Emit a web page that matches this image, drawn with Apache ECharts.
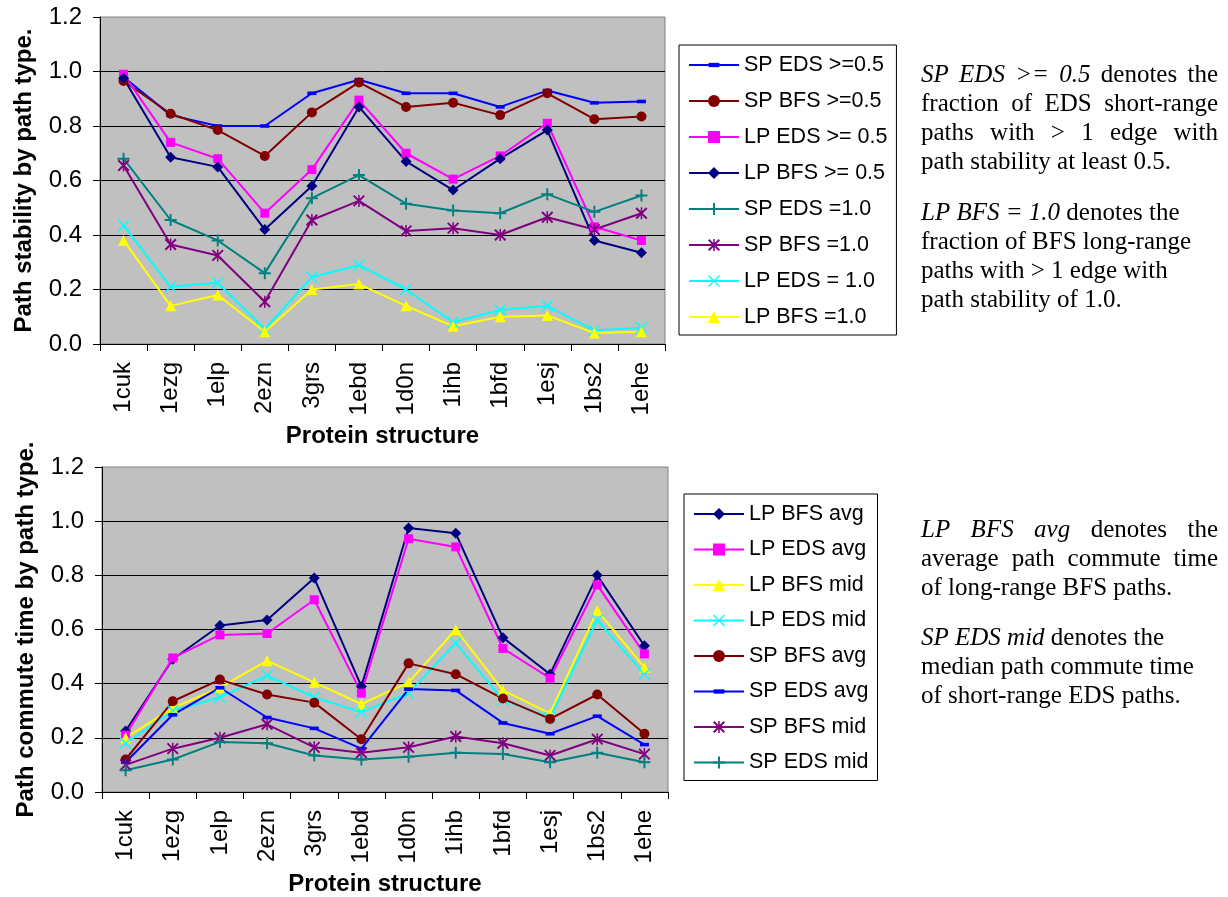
<!DOCTYPE html>
<html><head><meta charset="utf-8">
<script src="https://cdn.jsdelivr.net/npm/echarts@6/dist/echarts.min.js"></script>
<style>html,body{margin:0;padding:0;background:#fff}#c{width:1228px;height:897px}</style>
</head><body><div id="c"></div>
<script>
// ---------- DATA ----------
const categories = ['1cuk','1ezg','1elp','2ezn','3grs','1ebd','1d0n','1ihb','1bfd','1esj','1bs2','1ehe'];
const yTicks = [0, 0.2, 0.4, 0.6, 0.8, 1.0, 1.2];

// Top chart: path stability
const topNames = ['SP EDS >=0.5','SP BFS >=0.5','LP EDS >= 0.5','LP BFS >= 0.5','SP EDS =1.0','SP BFS =1.0','LP EDS = 1.0','LP BFS =1.0'];
const spEds05 = [0.98,0.84,0.80,0.80,0.92,0.97,0.92,0.92,0.87,0.93,0.885,0.89];
const spBfs05 = [0.965,0.845,0.785,0.69,0.85,0.96,0.87,0.885,0.84,0.92,0.825,0.835];
const lpEds05 = [0.99,0.74,0.68,0.48,0.64,0.895,0.70,0.605,0.69,0.81,0.43,0.38];
const lpBfs05 = [0.975,0.685,0.65,0.42,0.58,0.87,0.67,0.565,0.68,0.785,0.38,0.335];
const spEds10 = [0.68,0.455,0.38,0.26,0.535,0.62,0.515,0.49,0.48,0.55,0.485,0.545];
const spBfs10 = [0.655,0.365,0.325,0.155,0.455,0.525,0.415,0.425,0.40,0.465,0.42,0.48];
const lpEds10 = [0.435,0.21,0.225,0.055,0.245,0.29,0.20,0.08,0.125,0.14,0.05,0.06];
const lpBfs10 = [0.38,0.14,0.18,0.045,0.20,0.22,0.14,0.065,0.10,0.105,0.04,0.045];

// Bottom chart: path commute time
const botNames = ['LP BFS avg','LP EDS avg','LP BFS mid','LP EDS mid','SP BFS avg','SP EDS avg','SP BFS mid','SP EDS mid'];
const lpBfsAvg = [0.225,0.49,0.615,0.635,0.79,0.39,0.975,0.955,0.57,0.435,0.80,0.54];
const lpEdsAvg = [0.21,0.495,0.58,0.585,0.71,0.365,0.935,0.905,0.53,0.42,0.765,0.51];
const lpBfsMid = [0.20,0.31,0.385,0.485,0.405,0.325,0.405,0.60,0.375,0.29,0.67,0.46];
const lpEdsMid = [0.18,0.30,0.35,0.43,0.35,0.295,0.365,0.55,0.34,0.275,0.635,0.435];
const spBfsAvg = [0.12,0.335,0.415,0.36,0.33,0.195,0.475,0.435,0.345,0.27,0.36,0.215];
const spEdsAvg = [0.11,0.285,0.385,0.275,0.235,0.16,0.38,0.375,0.255,0.215,0.28,0.175];
const spBfsMid = [0.10,0.16,0.20,0.25,0.165,0.145,0.165,0.205,0.18,0.135,0.195,0.14];
const spEdsMid = [0.08,0.12,0.185,0.18,0.135,0.12,0.13,0.145,0.14,0.11,0.145,0.11];

// Side notes (italic part, normal part)
const topNote1 = [['SP EDS >= 0.5','denotes the'],['','fraction of EDS short-range'],['','paths with > 1 edge with'],['','path stability at least 0.5.']];
const topNote2 = [['LP BFS = 1.0','denotes the'],['','fraction of BFS long-range'],['','paths with > 1 edge with'],['','path stability of 1.0.']];
const botNote1 = [['LP BFS avg','denotes the'],['','average path commute time'],['','of long-range BFS paths.']];
const botNote2 = [['SP EDS mid','denotes the'],['','median path commute time'],['','of short-range EDS paths.']];

// ---------- STYLE ----------
const SANS = 'Liberation Sans';
const SERIF = 'Liberation Serif';
const SYM = {
  dash: 'path://M-5,-5M5,5M-4.5,-1.8L4.5,-1.8L4.5,1.8L-4.5,1.8Z',
  circle: 'circle',
  square: 'rect',
  diamond: 'diamond',
  plus: 'path://M-1.3,-8L1.3,-8L1.3,8L-1.3,8Z M-8,-1.3L8,-1.3L8,1.3L-8,1.3Z',
  star: 'path://M-1,-8L1,-8L1,8L-1,8Z M-7.9,-6.1L-6.1,-7.9L7.9,6.1L6.1,7.9Z M6.1,-7.9L7.9,-6.1L-6.1,7.9L-7.9,6.1Z',
  cross: 'path://M-7.9,-6.6L-6.6,-7.9L7.9,6.6L6.6,7.9Z M6.6,-7.9L7.9,-6.6L-6.6,7.9L-7.9,6.6Z',
  triangle: 'triangle'
};
const SIZE = {dash:10, circle:10, square:9, diamond:11, plus:12, star:12, cross:12, triangle:11};

function mk(name, data, color, sym, gi) {
  return {
    name, type:'line', data, xAxisIndex:gi, yAxisIndex:gi,
    symbol: SYM[sym], symbolSize: SIZE[sym],
    lineStyle:{color, width:2}, itemStyle:{color},
    emphasis:{disabled:true}, animation:false
  };
}

const series = [
  mk(topNames[0], spEds05, '#0000FF', 'dash', 0),
  mk(topNames[1], spBfs05, '#800000', 'circle', 0),
  mk(topNames[2], lpEds05, '#FF00FF', 'square', 0),
  mk(topNames[3], lpBfs05, '#000080', 'diamond', 0),
  mk(topNames[4], spEds10, '#008080', 'plus', 0),
  mk(topNames[5], spBfs10, '#800080', 'star', 0),
  mk(topNames[6], lpEds10, '#00FFFF', 'cross', 0),
  mk(topNames[7], lpBfs10, '#FFFF00', 'triangle', 0),
  mk(botNames[0], lpBfsAvg, '#000080', 'diamond', 1),
  mk(botNames[1], lpEdsAvg, '#FF00FF', 'square', 1),
  mk(botNames[2], lpBfsMid, '#FFFF00', 'triangle', 1),
  mk(botNames[3], lpEdsMid, '#00FFFF', 'cross', 1),
  mk(botNames[4], spBfsAvg, '#800000', 'circle', 1),
  mk(botNames[5], spEdsAvg, '#0000FF', 'dash', 1),
  mk(botNames[6], spBfsMid, '#800080', 'star', 1),
  mk(botNames[7], spEdsMid, '#008080', 'plus', 1)
];

function xAx(gi) {
  return {
    type:'category', gridIndex:gi, data:categories, boundaryGap:true,
    axisLine:{lineStyle:{color:'#000', width:1}},
    axisTick:{show:true, length:7, alignWithLabel:false, lineStyle:{color:'#000'}},
    axisLabel:{rotate:90, margin:18, interval:0, fontFamily:SANS, fontSize:24, color:'#000'},
    name:'Protein structure', nameLocation:'middle', nameGap:80,
    nameTextStyle:{fontFamily:SANS, fontSize:24, fontWeight:'bold', color:'#000'}
  };
}
function yAx(gi, name) {
  return {
    type:'value', gridIndex:gi, min:yTicks[0], max:yTicks[yTicks.length-1], interval:0.2,
    axisLine:{show:true, lineStyle:{color:'#000', width:1}},
    axisTick:{show:true, length:7, lineStyle:{color:'#000'}},
    axisLabel:{margin:18, fontFamily:SANS, fontSize:24, color:'#000', formatter:v=>v.toFixed(1)},
    splitLine:{show:true, showMaxLine:false, lineStyle:{color:'#000', width:1}},
    name, nameLocation:'middle', nameGap:64,
    nameTextStyle:{fontFamily:SANS, fontSize:24, fontWeight:'bold', color:'#000'}
  };
}
function lg(names, left, top, gap) {
  return {
    data:names, orient:'vertical', left, top, itemWidth:50, itemHeight:15, itemGap:gap,
    padding:[9,9,7,9], backgroundColor:'#fff', borderColor:'#000', borderWidth:1,
    selectedMode:false,
    textStyle:{fontFamily:SANS, fontSize:21.5, color:'#000', lineHeight:22}
  };
}

// ---------- NOTES (graphic text, justified where needed) ----------
const NOTE_X = 921, NOTE_W = 297, NOTE_FS = 25, NOTE_LH = 29;
const mctx = document.createElement('canvas').getContext('2d');
function fnt(it){ return (it?'italic ':'') + NOTE_FS + 'px "' + SERIF + '"'; }
function noteLines(lines, y0, justify) {
  const els = [];
  lines.forEach((ln, li) => {
    const words = [];
    if (ln[0]) ln[0].split(' ').forEach(t => words.push({t, it:true}));
    if (ln[1]) ln[1].split(' ').forEach(t => words.push({t, it:false}));
    const ws = words.map(w => { mctx.font = fnt(w.it); return mctx.measureText(w.t).width; });
    mctx.font = fnt(false);
    const sp = mctx.measureText(' ').width;
    const tot = ws.reduce((a,b)=>a+b,0);
    const doJ = justify && li < lines.length-1 && words.length > 1;
    const gap = doJ ? (NOTE_W - tot)/(words.length-1) : sp;
    let x = NOTE_X;
    const y = y0 + li*NOTE_LH;
    words.forEach((w, i) => {
      els.push({type:'text', x, y, silent:true, style:{text:w.t, font:fnt(w.it), fill:'#000', verticalAlign:'middle', align:'left'}});
      x += ws[i] + gap;
    });
  });
  return els;
}
const graphics = [].concat(
  noteLines(topNote1, 75, true),
  noteLines(topNote2, 213, false),
  noteLines(botNote1, 530, true),
  noteLines(botNote2, 638, false)
);

const chart = echarts.init(document.getElementById('c'), null, {renderer:'canvas', width:1228, height:897});
chart.setOption({
  animation:false,
  backgroundColor:'#fff',
  grid:[
    {left:100, top:17, width:565, height:327, show:true, backgroundColor:'#C0C0C0', borderColor:'#808080', borderWidth:1},
    {left:102, top:467, width:566, height:325, show:true, backgroundColor:'#C0C0C0', borderColor:'#808080', borderWidth:1}
  ],
  xAxis:[xAx(0), xAx(1)],
  yAxis:[yAx(0,'Path stability by path type.'), yAx(1,'Path commute time by path type.')],
  legend:[lg(topNames, 679, 45, 14), lg(botNames, 684, 494, 13.5)],
  series,
  graphic: graphics
});
</script></body></html>
